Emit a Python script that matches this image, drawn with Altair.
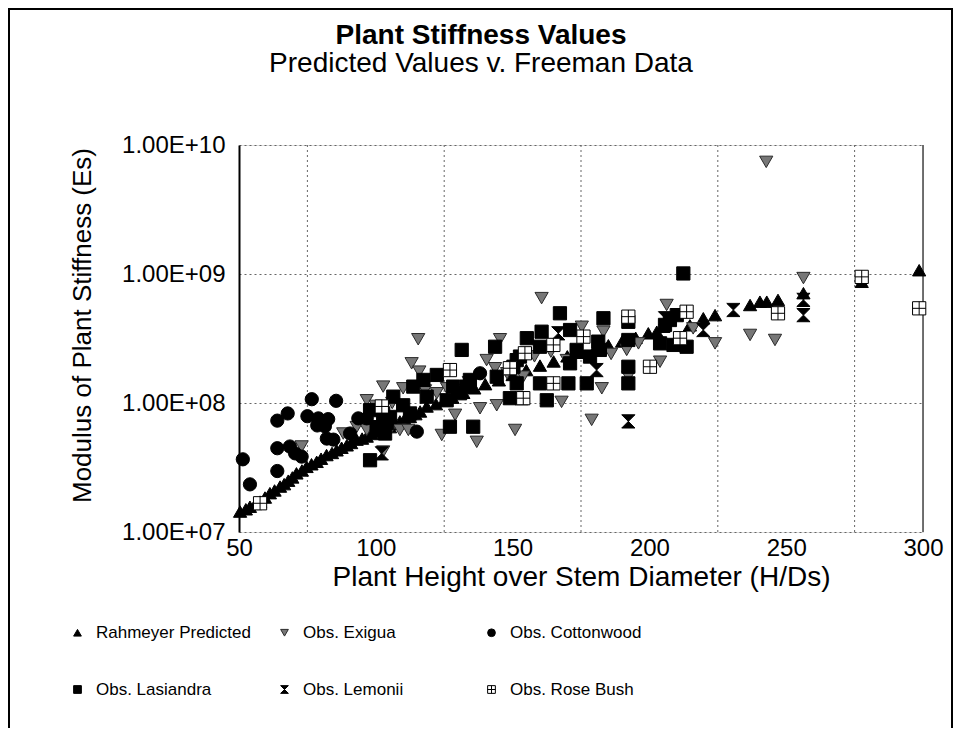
import altair as alt
import pandas as pd

FONT = "Liberation Sans"

series_names = ["Rahmeyer Predicted", "Obs. Exigua", "Obs. Cottonwood",
                "Obs. Lasiandra", "Obs. Lemonii", "Obs. Rose Bush"]

# Rahmeyer Predicted (filled triangle up)
pred_x = [50.4, 52.5, 54.0, 56.0, 57.7, 59.5, 61.3, 63.0, 65.0, 66.5,
          68.0, 69.5, 71.0, 73.0, 74.7, 76.5, 78.4, 80.0, 82.0, 84.0,
          85.7, 87.5, 89.4, 91.0, 93.0, 95.0, 96.7, 98.5, 100.3, 103.0,
          105.2, 107.0, 108.8, 110.5, 112.5, 114.5, 116.2, 118.6, 122.0, 125.0,
          128.0, 132.0, 136.0, 140.0, 145.0, 150.0, 155.0, 160.0, 165.0, 170.0,
          175.0, 180.0, 185.0, 190.0, 195.0, 199.6, 202.7, 205.1, 214.8, 219.7,
          224.0, 236.8, 240.4, 242.9, 247.0, 256.3, 277.6, 298.6]
pred_y = [1.44e7, 1.5e7, 1.57e7, 1.65e7, 1.72e7, 1.85e7, 2.0e7, 2.1e7, 2.25e7, 2.35e7,
          2.5e7, 2.65e7, 2.85e7, 3.0e7, 3.2e7, 3.35e7, 3.5e7, 3.7e7, 3.95e7, 4.1e7,
          4.3e7, 4.5e7, 4.7e7, 4.9e7, 5.2e7, 5.3e7, 5.5e7, 5.75e7, 6.0e7, 6.2e7,
          6.5e7, 6.9e7, 7.2e7, 7.5e7, 7.8e7, 8.2e7, 8.6e7, 9.4e7, 9.8e7, 1.05e8,
          1.1e8, 1.2e8, 1.3e8, 1.4e8, 1.5e8, 1.65e8, 1.8e8, 1.95e8, 2.1e8, 2.3e8,
          2.45e8, 2.6e8, 2.8e8, 3.0e8, 3.2e8, 3.47e8, 3.57e8, 3.9e8, 4.0e8, 4.54e8,
          4.8e8, 5.75e8, 6.1e8, 6.1e8, 6.3e8, 7.1e8, 8.7e8, 1.07e9]

# Obs. Exigua (hatched triangle down)
exig_x = [96.7, 102.7, 88.1, 93.0, 96.7, 72.9, 102.7, 115.5, 145.4, 113.1,
          115.9, 110.0, 105.2, 108.8, 111.9, 129.0, 124.1, 136.9, 150.9, 138.1,
          144.2, 140.5, 143.6, 153.3, 132.0, 122.3, 160.6, 175.3, 183.2, 191.7,
          192.3, 178.9, 203.9, 167.9, 182.6, 169.8, 153.9, 206.3, 256.3, 236.8,
          245.9, 224.0, 216.0, 242.7, 100.0, 106.0, 118.0, 126.0, 134.0, 148.0,
          158.0, 164.0, 186.0, 196.0]
exig_y = [1.05e8, 1.34e8, 5.8e7, 6.5e7, 6.2e7, 4.6e7, 4.2e7, 3.12e8, 3.12e8, 2.03e8,
          1.75e8, 1.3e8, 6.18e7, 6.18e7, 6.18e7, 8.1e7, 5.65e7, 5.0e7, 6.18e7, 9.1e7,
          9.6e7, 2.15e8, 1.86e8, 1.55e8, 1.26e8, 1.19e8, 6.5e8, 3.9e8, 3.57e8, 2.58e8,
          1.6e8, 7.4e7, 2.09e8, 1.02e8, 1.3e8, 2.15e8, 1.6e8, 5.75e8, 9.3e8, 3.37e8,
          3.08e8, 2.9e8, 3.79e8, 7.4e9, 9.5e7, 1.0e8, 1.25e8, 1.3e8, 1.45e8, 1.7e8,
          2.3e8, 2.5e8, 2.4e8, 2.9e8]

# Obs. Cottonwood (filled circle)
cott_x = [76.6, 85.5, 67.8, 64.0, 75.0, 79.0, 82.6, 81.4, 78.6, 93.6,
          96.7, 82.1, 84.5, 90.6, 70.5, 72.9, 68.6, 64.0, 64.0, 54.0,
          51.4, 115.0, 138.1]
cott_y = [1.07e8, 1.04e8, 8.3e7, 7.3e7, 7.9e7, 7.6e7, 7.5e7, 6.6e7, 6.7e7, 7.6e7,
          7.6e7, 5.3e7, 5.2e7, 5.8e7, 4.07e7, 3.84e7, 4.6e7, 4.46e7, 2.97e7, 2.34e7,
          3.66e7, 6.0e7, 1.7e8]

# Obs. Lasiandra (filled square)
lasi_x = [104.0, 103.4, 97.9, 131.4, 143.6, 155.2, 122.3, 117.4, 113.7, 106.4,
          110.0, 112.5, 105.2, 100.3, 127.1, 135.6, 133.2, 149.0, 144.2, 151.5,
          134.4, 118.6, 125.9, 128.3, 130.8, 102.7, 97.9, 167.3, 183.2, 192.3,
          205.7, 160.6, 171.0, 181.3, 181.9, 178.3, 160.0, 192.3, 192.3, 192.3,
          203.9, 170.4, 162.5, 177.1, 160.0, 171.0, 173.4, 152.7, 150.3, 151.5,
          212.4, 210.0, 207.5, 208.8, 213.6]
lasi_y = [7.0e7, 5.8e7, 3.6e7, 2.58e8, 2.73e8, 3.18e8, 1.65e8, 1.51e8, 1.34e8, 1.12e8,
          9.6e7, 8.3e7, 7.8e7, 6.5e7, 6.55e7, 6.55e7, 1.34e8, 1.09e8, 1.6e8, 2.15e8,
          1.51e8, 1.12e8, 1.05e8, 1.34e8, 1.19e8, 8.3e7, 8.8e7, 4.96e8, 4.54e8, 4.26e8,
          4.03e8, 3.57e8, 3.68e8, 2.99e8, 2.58e8, 2.29e8, 2.73e8, 3.08e8, 1.91e8, 1.42e8,
          2.9e8, 1.42e8, 1.05e8, 1.42e8, 1.42e8, 2.03e8, 2.58e8, 2.29e8, 1.91e8, 1.42e8,
          1.01e9, 4.8e8, 4.4e8, 2.82e8, 2.73e8]

# Obs. Lemonii (hourglass)
lemo_x = [102.2, 166.7, 192.3, 205.7, 153.3, 180.7, 219.7, 230.7, 256.3, 256.3]
lemo_y = [4.07e7, 3.47e8, 7.2e7, 4.54e8, 1.09e8, 1.8e8, 3.68e8, 5.26e8, 6.3e8, 4.8e8]

# Obs. Rose Bush (open square with cross)
rose_x = [57.7, 102.2, 127.1, 149.0, 154.5, 153.9, 192.3, 175.9, 164.9, 164.9,
          200.2, 211.2, 213.6, 247.0, 277.6, 298.6]
rose_y = [1.67e7, 9.4e7, 1.8e8, 1.86e8, 2.43e8, 1.09e8, 4.67e8, 3.27e8, 2.82e8, 1.42e8,
          1.91e8, 3.18e8, 5.1e8, 4.96e8, 9.5e8, 5.42e8]

x_ticks = [50, 100, 150, 200, 250, 300]
y_ticks = [1e7, 1e8, 1e9, 1e10]
x_grid = [75, 125, 175, 225, 275]

rows = []
for name, xs, ys in zip(series_names,
                        [pred_x, exig_x, cott_x, lasi_x, lemo_x, rose_x],
                        [pred_y, exig_y, cott_y, lasi_y, lemo_y, rose_y]):
    for xv, yv in zip(xs, ys):
        rows.append({"series": name, "hd": xv, "es": yv})
df = pd.DataFrame(rows)

shape_of = {"Rahmeyer Predicted": "triangle-up",
            "Obs. Exigua": "triangle-down",
            "Obs. Cottonwood": "circle",
            "Obs. Lasiandra": "square",
            "Obs. Lemonii": "M-1,-1L1,-1L-1,1L1,1Z",
            "Obs. Rose Bush": "M-1,-1H1V1H-1Z M0,-1V1 M-1,0H1"}
fill_of = {"Rahmeyer Predicted": "black", "Obs. Exigua": "#777777",
           "Obs. Cottonwood": "black", "Obs. Lasiandra": "black",
           "Obs. Lemonii": "black", "Obs. Rose Bush": "white"}
stroke_of = {"Rahmeyer Predicted": "black", "Obs. Exigua": "#2a2a2a",
             "Obs. Cottonwood": "black", "Obs. Lasiandra": "black",
             "Obs. Lemonii": "black", "Obs. Rose Bush": "black"}

# legend grid is filled column by column: order so rows read like the reference
legend_order = ["Rahmeyer Predicted", "Obs. Lasiandra", "Obs. Exigua",
                "Obs. Lemonii", "Obs. Cottonwood", "Obs. Rose Bush"]
shape_range = [shape_of[s] for s in legend_order]
fill_range = [fill_of[s] for s in legend_order]
stroke_range = [stroke_of[s] for s in legend_order]

leg = alt.Legend(title=None, orient="none", legendX=-170, legendY=479,
                 columns=3, gridAlign="all", columnPadding=25, rowPadding=39,
                 labelFontSize=17, labelFont=FONT, labelColor="black",
                 labelOffset=10, symbolSize=60, symbolStrokeWidth=1, padding=0)

xscale = alt.Scale(domain=[50, 300], nice=False, zero=False)
yscale = alt.Scale(type="log", domain=[1e7, 1e10], nice=False)

ylabel_expr = ("format(datum.value / pow(10, round(log(datum.value)/LN10)), '.2f') + 'E+' + "
               "pad(toString(round(log(datum.value)/LN10)), 2, '0', 'left')")

points = alt.Chart(df).mark_point(filled=True, size=175, strokeWidth=1, opacity=1).encode(
    x=alt.X("hd:Q", scale=xscale,
            axis=alt.Axis(values=x_ticks, grid=False, ticks=False, domain=False,
                          labelFlush=False, labelFontSize=24, labelFont=FONT,
                          labelColor="black", labelPadding=4,
                          title="Plant Height over Stem Diameter (H/Ds)",
                          titleFontSize=28, titleFont=FONT, titleFontWeight="normal",
                          titleColor="black", titlePadding=3)),
    y=alt.Y("es:Q", scale=yscale,
            axis=alt.Axis(values=y_ticks, labelExpr=ylabel_expr, grid=True,
                          gridDash=[2, 3], gridColor="#666666", gridWidth=1,
                          ticks=False, domainColor="black", domainWidth=2,
                          labelFontSize=24, labelFont=FONT, labelColor="black",
                          labelPadding=14,
                          title="Modulus of Plant Stiffness (Es)",
                          titleFontSize=26, titleFont=FONT, titleFontWeight="normal",
                          titleColor="black", titlePadding=26, titleY=180)),
    shape=alt.Shape("series:N", scale=alt.Scale(domain=legend_order, range=shape_range), legend=leg),
    fill=alt.Fill("series:N", scale=alt.Scale(domain=legend_order, range=fill_range), legend=leg),
    stroke=alt.Stroke("series:N", scale=alt.Scale(domain=legend_order, range=stroke_range), legend=leg),
)

grid_df = pd.DataFrame({"gx": x_grid})
vgrid = alt.Chart(grid_df).mark_rule(strokeDash=[2, 3], color="#666666", strokeWidth=1).encode(
    x=alt.X("gx:Q", scale=xscale)
)

one = pd.DataFrame({"k": [0]})
right_edge = alt.Chart(one).mark_rule(color="#444444", strokeWidth=1.5).encode(
    x=alt.datum(300)
)

frame = alt.Chart(one).mark_rect(filled=False, stroke="black", strokeWidth=2).encode(
    x=alt.value(-230), x2=alt.value(713), y=alt.value(-136), y2=alt.value(600)
)

chart = alt.layer(vgrid, right_edge, points, frame).properties(
    width=684, height=387,
    padding={"left": 231, "top": 137, "right": 30, "bottom": 196},
    autosize=alt.AutoSizeParams(type="none"),
    title=alt.TitleParams(text="Plant Stiffness Values",
                          subtitle="Predicted Values v. Freeman Data",
                          font=FONT, subtitleFont=FONT,
                          fontSize=28, subtitleFontSize=28,
                          fontWeight="bold", color="black", subtitleColor="black",
                          anchor="middle", frame="group", dx=-100, offset=-70,
                          subtitlePadding=0),
).configure_view(strokeWidth=0).configure(font=FONT, background="white")

chart.save("out.html", embed_options={"renderer": "svg", "actions": False})
